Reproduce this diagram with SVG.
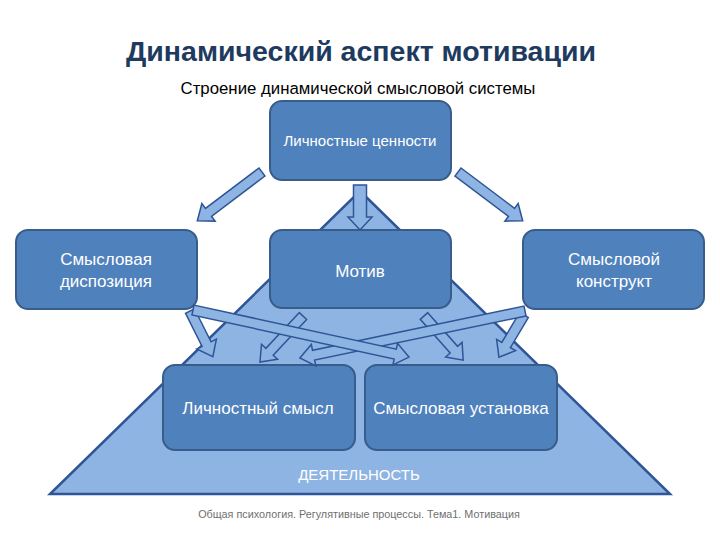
<svg xmlns="http://www.w3.org/2000/svg" width="720" height="540" viewBox="0 0 720 540">
<style>
.node rect{fill:#4F81BD;stroke:#385D8A;stroke-width:2}
.node text{fill:#FFFFFF;font-family:"Liberation Sans",Arial,sans-serif;font-size:17px;text-anchor:middle}
.arr{fill:#8EB4E3;stroke:#2F5597;stroke-width:1.5;stroke-linejoin:miter}
</style>
<rect width="720" height="540" fill="#FFFFFF"/>
<text x="361" y="61" font-family="Liberation Sans,Arial,sans-serif" font-weight="bold" font-size="28.5" fill="#1F3A5F" text-anchor="middle">Динамический аспект мотивации</text>
<text x="358" y="94" font-family="Liberation Sans,Arial,sans-serif" font-size="16.8" fill="#000000" text-anchor="middle">Строение динамической смысловой системы</text>
<g id="triangle">
<polygon points="360,191 670,494 50,494" fill="#8EB4E3" stroke="#2F5597" stroke-width="2.5" stroke-linejoin="miter"/>
<text x="359" y="480" font-family="Liberation Sans,Arial,sans-serif" font-size="15" fill="#FFFFFF" text-anchor="middle">ДЕЯТЕЛЬНОСТЬ</text>
</g>
<g id="n-values" class="node"><rect x="270" y="101" width="181" height="79" rx="12"/><text x="360" y="146" style="font-size:15px">Личностные ценности</text></g>
<g id="n-disposition" class="node"><rect x="16" y="230" width="181" height="79" rx="12"/><text x="106" y="265">Смысловая</text><text x="106" y="287">диспозиция</text></g>
<g id="n-motive" class="node"><rect x="270" y="230" width="181" height="78" rx="12"/><text x="360" y="277">Мотив</text></g>
<g id="n-construct" class="node"><rect x="523" y="230" width="181" height="79" rx="12"/><text x="614" y="265">Смысловой</text><text x="614" y="287">конструкт</text></g>
<g id="n-sense" class="node"><rect x="163" y="365" width="192" height="85" rx="12"/><text x="258" y="414">Личностный смысл</text></g>
<g id="n-set" class="node"><rect x="365" y="365" width="192" height="85" rx="12"/><text x="461" y="414">Смысловая установка</text></g>
<g id="connectors">
<path class="arr" transform="translate(262,172) rotate(143)" d="M0,-5 H67 V-11 L81,0 L67,11 V5 H0 Z"/>
<path class="arr" transform="translate(360,185) rotate(90)" d="M0,-6.5 H32 V-12 L45,0 L32,12 V6.5 H0 Z"/>
<path class="arr" transform="translate(458,172) rotate(37)" d="M0,-5 H67 V-11 L81,0 L67,11 V5 H0 Z"/>
<path class="arr" transform="translate(190,311) rotate(63.4)" d="M0,-5 H37 V-11 L51,0 L37,11 V5 H0 Z"/>
<path class="arr" transform="translate(303,316) rotate(133.1)" d="M0,-5 H49 V-11 L63,0 L49,11 V5 H0 Z"/>
<path class="arr" transform="translate(424,316) rotate(48.4)" d="M0,-5 H45 V-11 L59,0 L45,11 V5 H0 Z"/>
<path class="arr" transform="translate(524,315) rotate(120.8)" d="M0,-5 H35 V-11 L49,0 L35,11 V5 H0 Z"/>
<path class="arr" transform="translate(525,311) rotate(168.2)" d="M0,-5 H216 V-11 L230,0 L216,11 V5 H0 Z"/>
<path class="arr" transform="translate(193,310) rotate(12.3)" d="M0,-5 H207 V-11 L221,0 L207,11 V5 H0 Z"/>
</g>
<text x="359" y="518" font-family="Liberation Sans,Arial,sans-serif" font-size="10.8" fill="#6F6F6F" text-anchor="middle">Общая психология. Регулятивные процессы. Тема1. Мотивация</text>
</svg>
